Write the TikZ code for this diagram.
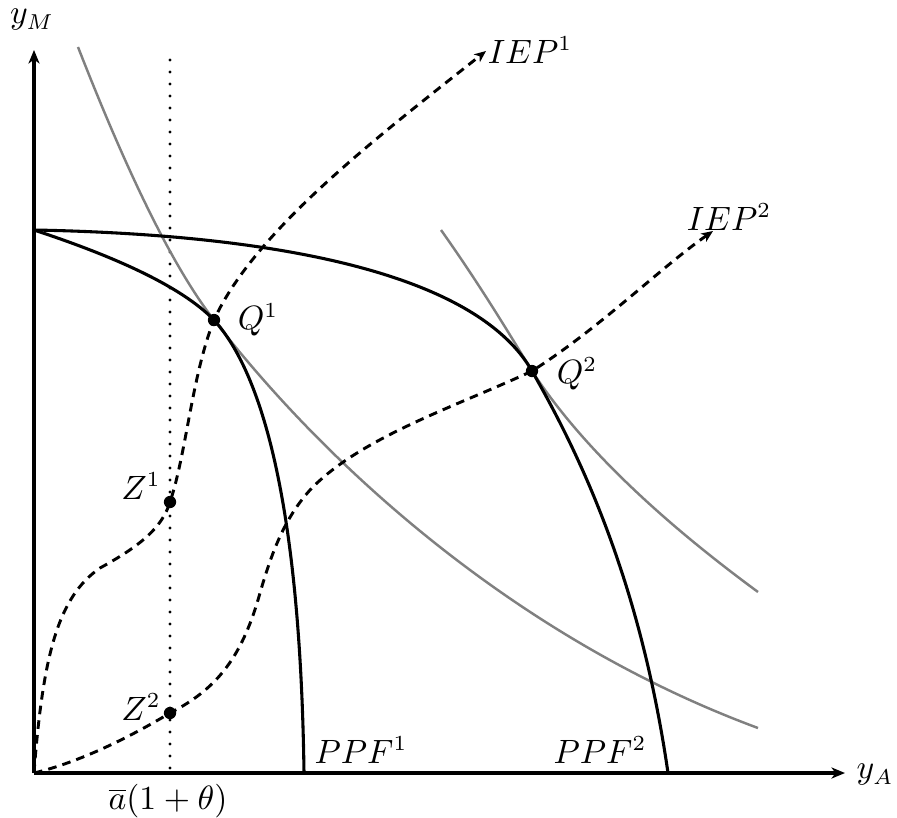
\documentclass[tikz,border=0pt]{standalone}
\usetikzlibrary{arrows.meta}
\begin{document}
\begin{tikzpicture}[x=0.325pt,y=-0.325pt,
  axis/.style={line width=1pt,-{Stealth[length=4.4pt,width=3.6pt,inset=1.3pt]}},
  ppf/.style={line width=1pt},
  indiff/.style={line width=0.8pt, black!50},
  iep/.style={line width=0.95pt, dash pattern=on 2.8pt off 2pt},
  iepar/.style={iep,-{Stealth[length=3.8pt,width=3.2pt,inset=1.1pt]}},
  dotline/.style={line width=1pt, line cap=round, dash pattern=on 0pt off 3.9pt},
  pt/.style={circle, fill=black, inner sep=0pt, minimum size=4pt},
  lab/.style={inner sep=0pt, font=\fontsize{10.5}{12}\selectfont}]
\useasboundingbox (0,0) rectangle (897,817);
% key points
\coordinate (O) at (34,773);
\coordinate (Ytop) at (34,50);
\coordinate (Xend) at (845,773);
\coordinate (A) at (34,230);
\coordinate (P1) at (304,773);
\coordinate (P2) at (668,773);
\coordinate (D1) at (170,60);
\coordinate (D2) at (170,773);
\coordinate (E1) at (486,51);
\coordinate (E2) at (713,231);
% dotted line
\draw[dotline] (D1) -- (D2);
% indifference curves
\draw[indiff] (78,47) .. controls (130,180) and (175,270) .. (214,320)
   .. controls (330,470) and (520,640) .. (758,728);
\draw[indiff] (441,230) .. controls (480,285) and (510,335) .. (532,371)
   .. controls (580,445) and (660,520) .. (758,592);
% PPFs
\draw[ppf] (A) .. controls (110,255) and (180,285) .. (214,320)
   .. controls (255,365) and (300,480) .. (P1);
\draw[ppf] (A) .. controls (300,235) and (480,280) .. (532,371)
   .. controls (580,455) and (640,580) .. (P2);
% IEP curves
\draw[iepar] (O) .. controls (43,655) and (58,597) .. (100,568)
   .. controls (140,546) and (162,528) .. (170,502)
   .. controls (186,455) and (192,375) .. (214,320)
   .. controls (255,230) and (380,135) .. (E1);
\draw[iepar] (O) .. controls (80,762) and (130,737) .. (170,713)
   .. controls (215,690) and (240,660) .. (258,600)
   .. controls (272,550) and (285,518) .. (310,490)
   .. controls (360,437) and (460,405) .. (532,371)
   .. controls (600,328) and (660,268) .. (E2);
% axes
\draw[axis] (O) -- (Ytop);
\draw[axis] (O) -- (Xend);
\draw[line width=1pt] (O) -- (A);
% points
\node[pt] (Q1) at (214,320) {};
\node[pt] (Q2) at (532,371) {};
\node[pt] (Z1) at (170,502) {};
\node[pt] (Z2) at (170,713) {};
% labels
\node[lab] (lyM) at (32,20) {$y_M$};
\node[lab] (lyA) at (875,775) {$y_A$};
\node[lab] (la) at (168,801) {$\overline{a}(1+\theta)$};
\node[lab] (lZ1) at (141,486) {$Z^1$};
\node[lab] (lZ2) at (141,707) {$Z^2$};
\node[lab] (lQ1) at (258,320) {$Q^1$};
\node[lab] (lQ2) at (577,374) {$Q^2$};
\node[lab] (lP1) at (361,750) {$PPF^1$};
\node[lab] (lP2) at (600,750) {$PPF^2$};
\node[lab] (lI1) at (530,50) {$IEP^1$};
\node[lab] (lI2) at (729,217) {$IEP^2$};
\end{tikzpicture}
\end{document}
